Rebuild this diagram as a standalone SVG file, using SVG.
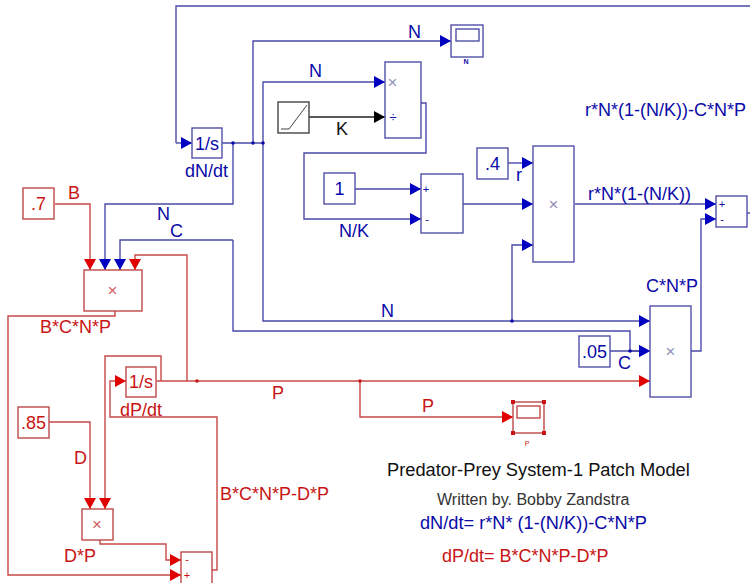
<svg xmlns="http://www.w3.org/2000/svg" width="750" height="583" viewBox="0 0 750 583">
<defs>
<marker id="ab" markerUnits="userSpaceOnUse" markerWidth="12" markerHeight="13" refX="11" refY="6" orient="auto"><path d="M0 0L11 6L0 12Z" fill="#0000c0"/></marker>
<marker id="ar" markerUnits="userSpaceOnUse" markerWidth="12" markerHeight="13" refX="11" refY="6" orient="auto"><path d="M0 0L11 6L0 12Z" fill="#e00000"/></marker>
<marker id="ak" markerUnits="userSpaceOnUse" markerWidth="12" markerHeight="13" refX="11" refY="6" orient="auto"><path d="M0 0L11 6L0 12Z" fill="#000"/></marker>
</defs>
<style>
text{font-family:"Liberation Sans",Arial,sans-serif}
.bw{fill:none;stroke:#4a4aa8;stroke-width:1.4}
.rw{fill:none;stroke:#c84848;stroke-width:1.4}
.ba{marker-end:url(#ab)}
.ra{marker-end:url(#ar)}
.bb{fill:#fff;stroke:#5050a8;stroke-width:1.4}
.rb{fill:#fff;stroke:#c04848;stroke-width:1.4}
.bt{fill:#0a0aa8;font-size:18px}
.rt{fill:#c81414;font-size:18px}
.bs{fill:#0a0aa8}
.rs{fill:#c81414}
.bc{fill:#0a0aa8;font-size:18px;text-anchor:middle}
.rc{fill:#c81414;font-size:18px;text-anchor:middle}
.bm{fill:#9090b8;font-size:17px;text-anchor:middle}
.rm{fill:#d06060;font-size:17px;text-anchor:middle}
.bp{fill:#0a0aa8;font-size:11px;text-anchor:middle}
.rp{fill:#c81414;font-size:11px;text-anchor:middle}
</style>
<g id="connectors">
<path class="bw" d="M176 143V6H750"/>
<path class="bw ba" d="M176 143H192"/>
<path class="bw" d="M222 143H263"/>
<path class="bw ba" d="M253 143V41H451"/>
<path class="bw ba" d="M263 143V82H385"/>
<path d="M309 117H385" fill="none" stroke="#222" stroke-width="1.300" marker-end="url(#ak)"/>
<path class="bw ba" d="M421 103H426V153H304V219H421"/>
<path class="bw ba" d="M355 189H421"/>
<path class="bw ba" d="M463 204H533"/>
<path class="bw ba" d="M508 163H533"/>
<path class="bw ba" d="M263 143V321H512V245H533"/>
<path class="bw ba" d="M512 321H650"/>
<path class="bw ba" d="M233 143V204H105V270"/>
<path class="bw ba" d="M233 240V331H630V351H650"/>
<path class="bw ba" d="M233 240H120V270"/>
<path class="bw ba" d="M610 351H650"/>
<path class="bw ba" d="M575 204H716"/>
<path class="bw ba" d="M691 351H701V219H716"/>
<path class="rw ra" d="M55 204H90V270"/>
<path class="rw ra" d="M187 381V255H135V270"/>
<path class="rw ra" d="M157 381H650"/>
<path class="rw ra" d="M360 381V417H513"/>
<path class="rw ra" d="M115 311V316H8V575H181"/>
<path class="rw ra" d="M161 381V356H105V509"/>
<path class="rw ra" d="M49 422H90V509"/>
<path class="rw ra" d="M100 540V544H166V560H181"/>
<path class="rw ra" d="M212 570H217V417H110V381H126"/>
<g class="bs"><circle cx="233" cy="143" r="1.800"/><circle cx="253" cy="143" r="1.800"/><circle cx="263" cy="143" r="1.800"/><circle cx="512" cy="321" r="1.800"/><circle cx="630" cy="351" r="1.800"/></g>
<g class="rs"><circle cx="197" cy="381" r="1.800"/><circle cx="360" cy="381" r="1.800"/></g>
</g>
<g id="int-n"><rect class="bb" x="192" y="128" width="30" height="30"/><text class="bc" x="207" y="150">1/s</text></g>
<g id="scope-n"><rect class="bb" x="451" y="25" width="32" height="32"/><rect class="bb" x="456" y="29" width="23" height="12"/><text class="bs" x="466" y="64" font-size="7" font-weight="bold" text-anchor="middle">N</text></g>
<g id="ramp-k"><rect x="278" y="102" width="31" height="31" fill="#fff" stroke="#444" stroke-width="1.400"/><path d="M281 129H289L307 105" fill="none" stroke="#444" stroke-width="1"/></g>
<g id="div-nk"><rect class="bb" x="385" y="62" width="36" height="76"/><text class="bm" x="392.500" y="88">×</text><text class="bs" x="393" y="122" font-size="13" text-anchor="middle">÷</text></g>
<g id="one"><rect class="bb" x="324" y="173" width="31" height="31"/><text class="bc" x="339.500" y="195">1</text></g>
<g id="sum-1"><rect class="bb" x="421" y="174" width="42" height="59"/><text class="bp" x="426" y="193">+</text><text class="bp" x="427" y="223">-</text></g>
<g id="r-const"><rect class="bb" x="477" y="148" width="31" height="31"/><text class="bc" x="492.500" y="170">.4</text></g>
<g id="mult-r"><rect class="bb" x="533" y="146" width="41" height="116"/><text class="bm" x="553.500" y="210">×</text></g>
<g id="sum-n"><rect class="bb" x="716" y="196" width="31" height="31"/><text class="bp" x="722" y="208">+</text><text class="bp" x="722" y="223">-</text><path class="bw" d="M747 213H750"/></g>
<g id="c-const"><rect class="bb" x="579" y="336" width="31" height="31"/><text class="bc" x="594.500" y="358">.05</text></g>
<g id="mult-c"><rect class="bb" x="650" y="306" width="41" height="91"/><text class="bm" x="670.500" y="357">×</text></g>
<g id="b-const"><rect class="rb" x="23" y="188" width="31" height="31"/><text class="rc" x="38.500" y="210">.7</text></g>
<g id="mult-b"><rect class="rb" x="84" y="270" width="58" height="41"/><text class="rm" x="112.500" y="296">×</text></g>
<g id="int-p"><rect class="rb" x="126" y="367" width="30" height="30"/><text class="rc" x="141" y="388">1/s</text></g>
<g id="d-const"><rect class="rb" x="18" y="407" width="31" height="31"/><text class="rc" x="33.500" y="429">.85</text></g>
<g id="mult-d"><rect class="rb" x="82" y="509" width="31" height="31"/><text class="rm" x="97" y="530">×</text></g>
<g id="sum-p"><rect class="rb" x="181" y="552" width="31" height="36"/><text class="rp" x="187" y="563">-</text><text class="rp" x="187" y="579">+</text></g>
<g id="scope-p"><rect class="rb" x="513" y="402" width="31" height="31"/><rect class="rb" x="517" y="406" width="23" height="12"/><g class="rs"><rect x="511" y="400" width="4" height="4"/><rect x="542" y="400" width="4" height="4"/><rect x="511" y="431" width="4" height="4"/><rect x="542" y="431" width="4" height="4"/></g><text class="rs" x="527" y="446" font-size="7" text-anchor="middle">P</text></g>
<g id="labels">
<text class="bt" x="408" y="38">N</text><text class="bt" x="309" y="77">N</text><text x="336" y="135" font-size="18" fill="#111">K</text>
<text class="bt" x="339" y="237">N/K</text><text class="bt" x="381" y="317">N</text><text class="bt" x="157" y="220">N</text><text class="bt" x="170" y="237">C</text>
<text class="bt" x="185" y="177">dN/dt</text><text class="bt" x="516" y="181">r</text><text class="bt" x="588" y="200">r*N*(1-(N/K))</text>
<text class="bt" x="646" y="292">C*N*P</text><text class="bt" x="618" y="369">C</text><text class="bt" x="585" y="116">r*N*(1-(N/K))-C*N*P</text>
<text class="rt" x="68" y="199">B</text><text class="rt" x="40" y="333">B*C*N*P</text><text class="rt" x="120" y="416">dP/dt</text><text class="rt" x="74" y="464">D</text><text class="rt" x="64" y="562">D*P</text><text class="rt" x="272" y="399">P</text><text class="rt" x="422" y="412">P</text><text class="rt" x="220" y="500">B*C*N*P-D*P</text>
<text x="387" y="476" font-size="18.300" fill="#111">Predator-Prey System-1 Patch Model</text>
<text x="437" y="505" font-size="16" fill="#333">Written by. Bobby Zandstra</text>
<text x="420" y="529" font-size="18.200" fill="#0a0aa8">dN/dt= r*N* (1-(N/K))-C*N*P</text>
<text x="442" y="562" font-size="18" fill="#c81414">dP/dt= B*C*N*P-D*P</text>
</g>
</svg>
